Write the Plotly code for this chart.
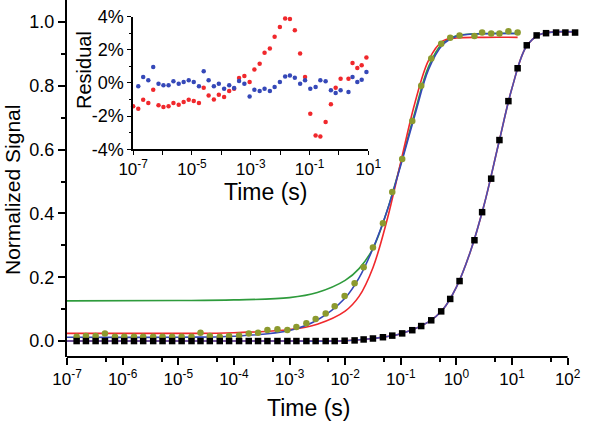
import plotly.graph_objects as go

# ---------------- data ----------------
time_s = [1.49e-7, 2.19e-7, 3.27e-7, 4.81e-7, 7.28e-7, 1.07e-6, 1.60e-6, 2.34e-6, 3.54e-6,
          5.22e-6, 7.76e-6, 1.15e-5, 1.73e-5, 2.51e-5, 3.69e-5, 5.57e-5, 8.20e-5, 1.24e-4,
          1.85e-4, 2.72e-4, 4.01e-4, 6.07e-4, 9.16e-4, 1.33e-3, 2.01e-3, 2.95e-3, 4.47e-3,
          6.49e-3, 9.79e-3, 1.48e-2, 2.15e-2, 3.16e-2, 4.78e-2, 7.03e-2, 0.106, 0.161, 0.233,
          0.353, 0.533, 0.774, 1.14, 2.11, 2.90, 4.22, 5.94, 8.61, 12.6, 18.4, 27.7, 40.9,
          61.9, 91.0, 136.0]

black_signal = [0.0, 0.0, 0.0, 0.0, 0.0, 0.0, 0.0, 0.0, 0.0, 0.0, 0.0, 0.0, 0.0, 0.0, 0.0,
                0.0, 0.0, 0.0, 0.0, 0.0, 0.0, 0.0, 0.0, 0.0, 0.0, 0.0, 0.0, 0.0, 0.001, 0.002,
                0.005, 0.008, 0.012, 0.017, 0.024, 0.034, 0.047, 0.065, 0.093, 0.132, 0.188,
                0.316, 0.404, 0.509, 0.630, 0.752, 0.855, 0.927, 0.958, 0.965, 0.967, 0.967, 0.967]

olive_signal = [0.0135, 0.0155, 0.0155, 0.024, 0.0135, 0.0135, 0.0135, 0.0135, 0.0135, 0.0135,
                0.0135, 0.0135, 0.0135, 0.026, 0.0155, 0.0135, 0.0155, 0.017, 0.024, 0.026,
                0.035, 0.037, 0.035, 0.044, 0.056, 0.069, 0.086, 0.109, 0.141, 0.181, 0.231,
                0.293, 0.369, 0.467, 0.571, 0.690, 0.800, 0.886, 0.932, 0.951, 0.958, 0.956,
                0.967, 0.964, 0.964, 0.971, 0.967]

fit_t = [1e-7, 1e-5, 1e-4, 1e-3, 3.16e-3, 1e-2, 1.78e-2, 3.16e-2, 5.62e-2, 0.1, 0.178,
         0.316, 0.562, 1.0, 3.16, 12.6]
fit_green = [0.126, 0.127, 0.129, 0.136, 0.152, 0.190, 0.227, 0.290, 0.406, 0.556, 0.715,
             0.860, 0.933, 0.957, 0.964, 0.964]
fit_red = [0.024, 0.024, 0.026, 0.036, 0.053, 0.094, 0.140, 0.230, 0.377, 0.561, 0.744,
           0.880, 0.940, 0.950, 0.952, 0.952]
fit_blue = [0.012, 0.012, 0.015, 0.033, 0.066, 0.135, 0.198, 0.290, 0.406, 0.551, 0.706,
            0.851, 0.928, 0.955, 0.963, 0.964]

fitk_t = [1e-7, 1e-3, 1e-2, 3.16e-2, 0.1, 0.316, 0.562, 1.0, 1.78, 3.16, 5.62, 10.0, 17.8,
          31.6, 136.0]
fitk_signal = [0.0, 0.0, 0.001, 0.008, 0.023, 0.060, 0.097, 0.169, 0.280, 0.428, 0.612,
               0.793, 0.921, 0.961, 0.969]

resid_red_t = [1e-7] + time_s[:47]
resid_red = [-1.41, -1.56, -1.01, -1.21, -0.40, -1.35, -1.45, -1.41, -1.21, -1.31, -1.15,
             -1.01, -1.09, -1.21, -0.28, -0.75, -0.99, -0.71, -0.85, -0.48, -0.34, 0.30,
             0.42, 0.06, 0.81, 1.17, 1.82, 2.08, 2.79, 3.39, 3.90, 3.86, 3.19, 1.78, 0.36,
             -1.86, -3.17, -3.23, -2.36, -1.29, -0.28, 0.26, 0.26, 1.21, 0.91, 1.07, 1.54, 1.21]
resid_blue_t = time_s[:47]
resid_blue = [-0.20, 0.36, 0.16, 0.97, -0.04, -0.14, -0.14, 0.10, -0.04, 0.06, 0.16, 0.06,
              -0.20, 0.71, 0.16, -0.20, -0.04, -0.34, -0.14, -0.30, 0.12, -0.04, -0.81,
              -0.40, -0.48, -0.34, -0.48, -0.24, 0.06, 0.40, 0.46, 0.32, -0.04, 0.16, -0.34,
              -0.24, 0.16, 0.10, -0.44, -0.61, -0.44, -0.55, 0.36, 0.06, 0.20, 0.67, 0.40]

main_xticks = [1e-7, 1e-6, 1e-5, 1e-4, 1e-3, 1e-2, 1e-1, 1e0, 1e1, 1e2]
main_xlabels = ["10<sup>-7</sup>", "10<sup>-6</sup>", "10<sup>-5</sup>", "10<sup>-4</sup>",
                "10<sup>-3</sup>", "10<sup>-2</sup>", "10<sup>-1</sup>", "10<sup>0</sup>",
                "10<sup>1</sup>", "10<sup>2</sup>"]
main_xminor = [5e-7, 5e-6, 5e-5, 5e-4, 5e-3, 5e-2, 5e-1, 5e0, 5e1]
main_yticks = [0.0, 0.2, 0.4, 0.6, 0.8, 1.0]
main_ylabels = ["0.0", "0.2", "0.4", "0.6", "0.8", "1.0"]

inset_xticks = [1e-7, 1e-5, 1e-3, 1e-1, 1e1]
inset_xlabels = ["10<sup>-7</sup>", "10<sup>-5</sup>", "10<sup>-3</sup>", "10<sup>-1</sup>",
                 "10<sup>1</sup>"]
inset_xminor = [1e-6, 1e-4, 1e-2, 1e0]
inset_yticks = [-4, -2, 0, 2, 4]
inset_ylabels = ["-4%", "-2%", "0%", "2%", "4%"]

# ---------------- styles ----------------
RED = "#F0282C"
BLUE = "#3548B8"
GREEN = "#2E9B3C"
OLIVE = "#8C9A2E"
FONT = "Arial, Liberation Sans, sans-serif"

fig = go.Figure()

# fits for olive data
fig.add_trace(go.Scatter(x=fit_t, y=fit_green, mode="lines", line=dict(color=GREEN, width=1.6, shape="spline")))
fig.add_trace(go.Scatter(x=fit_t, y=fit_red, mode="lines", line=dict(color=RED, width=1.6, shape="spline")))
fig.add_trace(go.Scatter(x=fit_t, y=fit_blue, mode="lines", line=dict(color=BLUE, width=1.6, shape="spline")))
# fits for black data
fig.add_trace(go.Scatter(x=fitk_t, y=fitk_signal, mode="lines", line=dict(color=RED, width=1.6, shape="spline")))
fig.add_trace(go.Scatter(x=fitk_t, y=fitk_signal, mode="lines", line=dict(color="#4A50B0", width=1.6, shape="spline")))

fig.add_trace(go.Scatter(x=time_s[:len(olive_signal)], y=olive_signal, mode="markers",
                         marker=dict(symbol="circle", size=6.5, color=OLIVE), cliponaxis=False))
fig.add_trace(go.Scatter(x=time_s, y=black_signal, mode="markers",
                         marker=dict(symbol="square", size=6.5, color="black"), cliponaxis=False))

# inset residuals
fig.add_trace(go.Scatter(x=resid_red_t, y=resid_red, mode="markers", xaxis="x2", yaxis="y2",
                         marker=dict(size=4.5, color=RED), cliponaxis=False))
fig.add_trace(go.Scatter(x=resid_blue_t, y=resid_blue, mode="markers", xaxis="x2", yaxis="y2",
                         marker=dict(size=4.5, color=BLUE), cliponaxis=False))

X_END = 2.15
PLOT_W = 600 - 67 - 24
PLOT_H = 423 - 66


def px_x(px):
    return (px - 67) / PLOT_W


def px_y(py):
    return (PLOT_H - py) / PLOT_H


fig.update_layout(
    width=600, height=423,
    margin=dict(l=67, r=24, t=0, b=66, autoexpand=False),
    paper_bgcolor="white", plot_bgcolor="white",
    showlegend=False,
    font=dict(family=FONT, color="black"),
    xaxis=dict(type="log", range=[-7, X_END], tickmode="array", tickvals=main_xticks,
               ticktext=main_xlabels, ticks="outside", ticklen=7, tickwidth=1.5,
               tickcolor="black", showline=False, showgrid=False, zeroline=False,
               tickfont=dict(size=17), automargin=False,
               minor=dict(tickmode="array", tickvals=main_xminor, ticks="outside", ticklen=4,
                          tickwidth=1.5, tickcolor="black", showgrid=False)),
    yaxis=dict(range=[-0.050, 1.069], tickmode="array", tickvals=main_yticks,
               ticktext=main_ylabels, ticks="outside", ticklen=7, tickwidth=1.5,
               tickcolor="black", showline=True, linewidth=2, linecolor="black",
               showgrid=False, zeroline=False, tickfont=dict(size=18), automargin=False,
               minor=dict(dtick=0.1, tick0=0, ticks="outside", ticklen=4, tickwidth=1.5,
                          tickcolor="black", showgrid=False)),
    xaxis2=dict(type="log", range=[-7, 1], domain=[0.130, 0.592], anchor="y2",
                tickmode="array", tickvals=inset_xticks, ticktext=inset_xlabels,
                ticks="outside", ticklen=4, tickwidth=1.2, tickcolor="black",
                showline=True, linewidth=1.5, linecolor="black", showgrid=False,
                zeroline=False, tickfont=dict(size=17), automargin=False,
                minor=dict(tickmode="array", tickvals=inset_xminor, ticks="outside", ticklen=4,
                           tickwidth=1.2, tickcolor="black", showgrid=False)),
    yaxis2=dict(range=[-4, 4], domain=[0.582, 0.953], anchor="x2", tickmode="array",
                tickvals=inset_yticks, ticktext=inset_ylabels, ticks="outside", ticklen=4,
                tickwidth=1.2, tickcolor="black", showline=True, linewidth=1.5,
                linecolor="black", showgrid=False, zeroline=False, tickfont=dict(size=18),
                automargin=False,
                minor=dict(dtick=1, tick0=0, ticks="outside", ticklen=2.5, tickwidth=1.2,
                           tickcolor="black", showgrid=False)),
    shapes=[dict(type="line", xref="paper", yref="paper", x0=0, x1=9 / (X_END + 7),
                 y0=0, y1=0, line=dict(color="black", width=2))],
    annotations=[
        dict(text="Time (s)", xref="paper", yref="paper", x=px_x(308), y=px_y(408),
             xanchor="center", yanchor="middle", showarrow=False, font=dict(size=23)),
        dict(text="Normalized Signal", xref="paper", yref="paper", x=px_x(12), y=px_y(190),
             xanchor="center", yanchor="middle", textangle=-90, showarrow=False,
             font=dict(size=21)),
        dict(text="Time (s)", xref="paper", yref="paper", x=px_x(265), y=px_y(192),
             xanchor="center", yanchor="middle", showarrow=False, font=dict(size=23)),
        dict(text="Residual", xref="paper", yref="paper", x=px_x(84), y=px_y(70),
             xanchor="center", yanchor="middle", textangle=-90, showarrow=False,
             font=dict(size=20)),
    ],
)

fig.write_html("out.html", config={"displayModeBar": False},
               post_script="document.body.style.margin='0';")
